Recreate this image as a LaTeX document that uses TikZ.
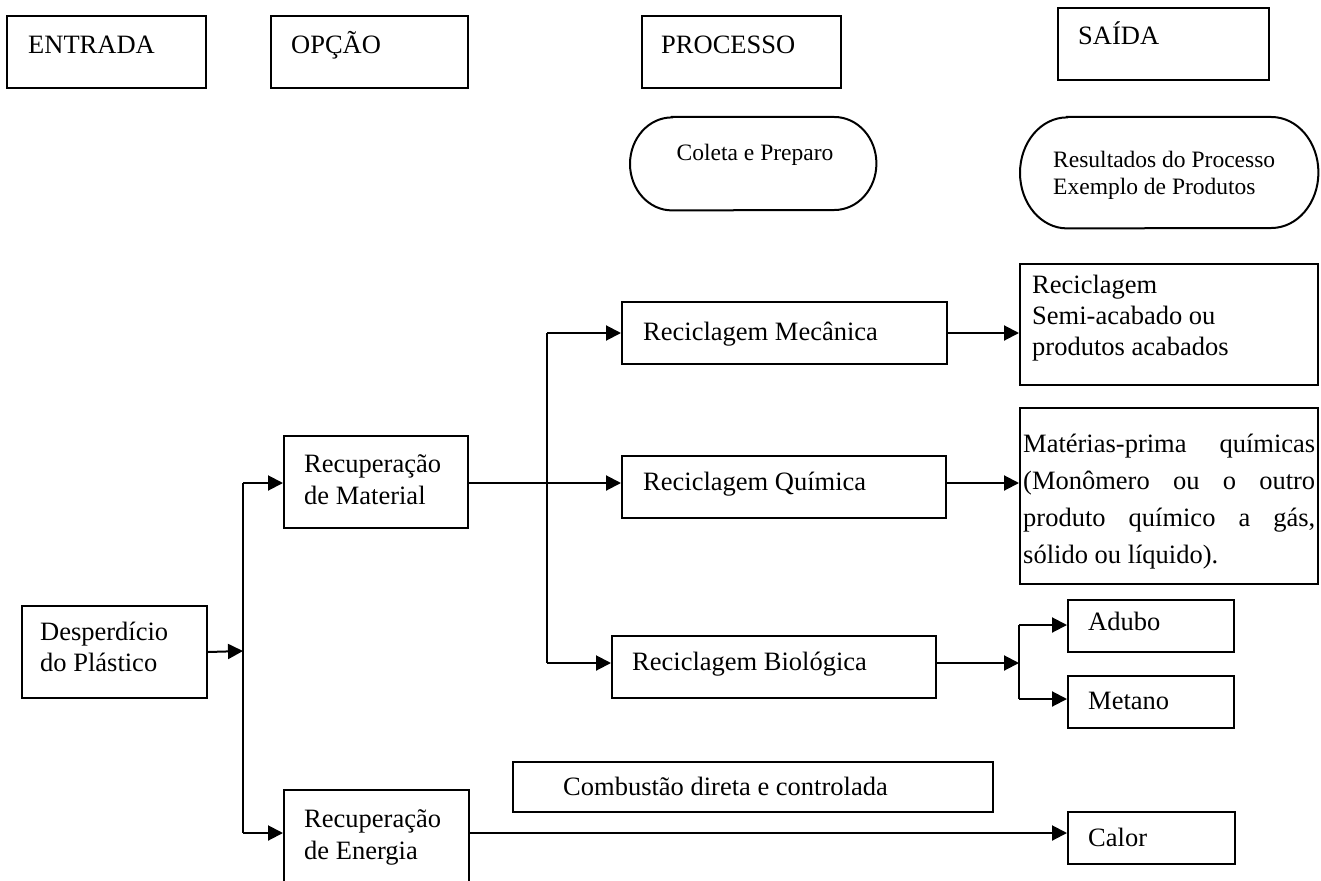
\documentclass[tikz,border=0pt]{standalone}
\usepackage{fontspec}
\setmainfont{Liberation Serif}
\usetikzlibrary{arrows.meta}
\begin{document}
\begin{tikzpicture}[x=1pt,y=-1pt,
  box/.style={draw, line width=2pt, inner sep=0pt, anchor=north west},
  ghost/.style={inner sep=0pt, anchor=north west},
  txt/.style={anchor=base west, inner sep=0pt, font=\fontsize{26.5}{32}\selectfont},
  small/.style={anchor=base west, inner sep=0pt, font=\fontsize{23.5}{27}\selectfont},
  link/.style={line width=2pt},
  arr/.style={line width=2pt, -{Triangle[length=15pt,width=15pt]}},
]
\clip (0,0) rectangle (1321,880);
\fill[white] (0,0) rectangle (1321,880);

% column headers
\node[box, minimum width=199pt, minimum height=72pt] (ent) at (6,15) {};
\node[box, minimum width=197pt, minimum height=72pt] (opc) at (270,15) {};
\node[box, minimum width=199pt, minimum height=72pt] (pro) at (641,15) {};
\node[box, minimum width=211pt, minimum height=72pt] (sai) at (1057,7) {};
\node[txt] (tent) at (28,54) {ENTRADA};
\node[txt] (topc) at (291,54) {OPÇÃO};
\node[txt] (tpro) at (661,54) {PROCESSO};
\node[txt] (tsai) at (1078,45) {SAÍDA};

% terminator shapes
\node[ghost, minimum width=246pt, minimum height=93pt] (col) at (630,117) {};
\draw[link] ([xshift=42pt]col.north west) -- ([xshift=-42pt]col.north east)
  arc[start angle=90, end angle=-90, x radius=42pt, y radius=46.5pt]
  -- ([xshift=42pt]col.south west)
  arc[start angle=270, end angle=90, x radius=42pt, y radius=46.5pt] -- cycle;
\node[small, anchor=base] (tcol) at (755,160) {Coleta e Preparo};

\node[ghost, minimum width=298pt, minimum height=111pt] (res) at (1020,117) {};
\draw[link] ([xshift=47pt]res.north west) -- ([xshift=-47pt]res.north east)
  arc[start angle=90, end angle=-90, x radius=47pt, y radius=55.5pt]
  -- ([xshift=47pt]res.south west)
  arc[start angle=270, end angle=90, x radius=47pt, y radius=55.5pt] -- cycle;
\node[small] (tres) at (1053,167)
  {\begin{tabular}[t]{@{}l@{}}Resultados do Processo\\Exemplo de Produtos\end{tabular}};

% process boxes
\node[box, minimum width=185pt, minimum height=92pt] (des) at (21,605) {};
\node[box, minimum width=184pt, minimum height=92pt] (mat) at (283,435) {};
\node[box, minimum width=185pt, minimum height=120pt] (ene) at (283,789) {};
\node[box, minimum width=325pt, minimum height=62pt] (mec) at (621,301) {};
\node[box, minimum width=324pt, minimum height=62pt] (qui) at (621,455) {};
\node[box, minimum width=324pt, minimum height=62pt] (bio) at (611,635) {};
\node[box, minimum width=480pt, minimum height=50pt] (com) at (512,761) {};

% output boxes
\node[box, minimum width=298pt, minimum height=121pt] (rmec) at (1019,263) {};
\node[box, minimum width=298pt, minimum height=176pt] (rqui) at (1019,407) {};
\node[box, minimum width=166pt, minimum height=52pt] (adu) at (1067,599) {};
\node[box, minimum width=166pt, minimum height=52pt] (met) at (1067,675) {};
\node[box, minimum width=167pt, minimum height=52pt] (cal) at (1067,811) {};

% box texts
\node[txt, font=\fontsize{26.5}{31}\selectfont] (tdes) at (40,640)
  {\begin{tabular}[t]{@{}l@{}}Desperdício\\do Plástico\end{tabular}};
\node[txt] (tmat) at (304,472)
  {\begin{tabular}[t]{@{}l@{}}Recuperação\\de Material\end{tabular}};
\node[txt] (tene) at (304,827)
  {\begin{tabular}[t]{@{}l@{}}Recuperação\\de Energia\end{tabular}};
\node[txt] (tmec) at (643,340) {Reciclagem Mecânica};
\node[txt] (tqui) at (643,490) {Reciclagem Química};
\node[txt] (tbio) at (632,670) {Reciclagem Biológica};
\node[txt] (tcom) at (563,795) {Combustão direta e controlada};
\node[txt, font=\fontsize{26.5}{31}\selectfont] (trmec) at (1032,293)
  {\begin{tabular}[t]{@{}l@{}}Reciclagem\\Semi-acabado ou\\produtos acabados\end{tabular}};
\node[txt, font=\fontsize{26.5}{37}\selectfont] (trqui) at (1023,452)
  {\begin{tabular}[t]{@{}l@{}}\makebox[292pt][s]{Matérias-prima químicas}\\
   \makebox[292pt][s]{(Monômero ou o outro}\\
   \makebox[292pt][s]{produto químico a gás,}\\
   sólido ou líquido).\end{tabular}};
\node[txt] (tadu) at (1088,630) {Adubo};
\node[txt] (tmet) at (1088,709) {Metano};
\node[txt] (tcal) at (1088,846) {Calor};

% junction points
\coordinate (jin) at (243,651);
\coordinate (jmat) at (243,483);
\coordinate (jene) at (243,833);
\coordinate (jmec) at (547,333);
\coordinate (jqui) at (547,483);
\coordinate (jbio) at (547,663);
\coordinate (jout) at (1019,663);
\coordinate (jadu) at (1019,625);
\coordinate (jmet) at (1019,699);

% connectors
\draw[arr] (des.east) -- (jin);
\draw[link] (jmat) -- (jene);
\draw[arr] (jmat) -- (jmat -| mat.west);
\draw[arr] (jene) -- (jene -| ene.west);
\draw[link] (jqui -| mat.east) -- (jqui);
\draw[link] (jmec) -- (jbio);
\draw[arr] (jmec) -- (jmec -| mec.west);
\draw[arr] (jqui) -- (jqui -| qui.west);
\draw[arr] (jbio) -- (jbio -| bio.west);
\draw[arr] (jmec -| mec.east) -- (jmec -| rmec.west);
\draw[arr] (jqui -| qui.east) -- (jqui -| rqui.west);
\draw[arr] (jout -| bio.east) -- (jout);
\draw[link] (jadu) -- (jmet);
\draw[arr] (jadu) -- (jadu -| adu.west);
\draw[arr] (jmet) -- (jmet -| met.west);
\draw[arr] (jene -| ene.east) -- (jene -| cal.west);
\end{tikzpicture}
\end{document}
